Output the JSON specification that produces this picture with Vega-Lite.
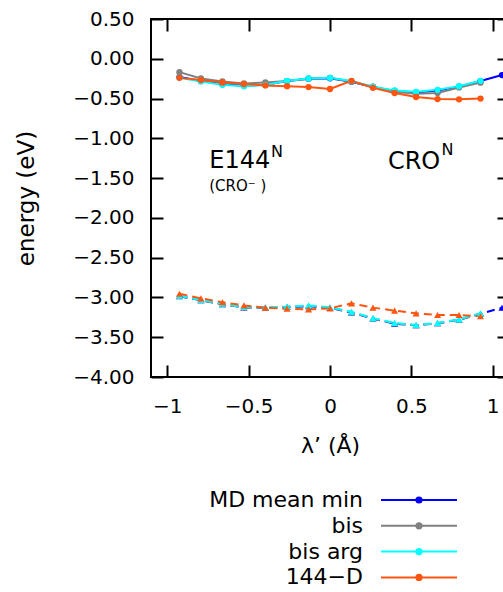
{
  "$schema": "https://vega.github.io/schema/vega-lite/v6.json",
  "width": 358,
  "height": 358,
  "autosize": {"type": "none"},
  "padding": {"left": 151, "top": 19, "right": 0, "bottom": 215},
  "background": "white",
  "config": {
    "font": "DejaVu Sans",
    "view": {"stroke": "black", "strokeWidth": 2},
    "axis": {"labelColor": "black", "titleColor": "black", "tickColor": "black", "grid": false, "domain": false, "labelFont": "DejaVu Sans", "titleFont": "DejaVu Sans", "titleFontWeight": "normal"}
  },
  "datasets": {
    "pts": [
      {"series": "MD mean min", "band": "top", "lam": -0.925, "e": -0.23},
      {"series": "MD mean min", "band": "top", "lam": -0.793, "e": -0.28},
      {"series": "MD mean min", "band": "top", "lam": -0.661, "e": -0.32},
      {"series": "MD mean min", "band": "top", "lam": -0.529, "e": -0.34},
      {"series": "MD mean min", "band": "top", "lam": -0.397, "e": -0.325},
      {"series": "MD mean min", "band": "top", "lam": -0.264, "e": -0.28},
      {"series": "MD mean min", "band": "top", "lam": -0.132, "e": -0.25},
      {"series": "MD mean min", "band": "top", "lam": 0, "e": -0.245},
      {"series": "MD mean min", "band": "top", "lam": 0.132, "e": -0.29},
      {"series": "MD mean min", "band": "top", "lam": 0.264, "e": -0.355},
      {"series": "MD mean min", "band": "top", "lam": 0.397, "e": -0.405},
      {"series": "MD mean min", "band": "top", "lam": 0.529, "e": -0.425},
      {"series": "MD mean min", "band": "top", "lam": 0.661, "e": -0.4},
      {"series": "MD mean min", "band": "top", "lam": 0.793, "e": -0.35},
      {"series": "MD mean min", "band": "top", "lam": 0.925, "e": -0.28},
      {"series": "MD mean min", "band": "top", "lam": 1.057, "e": -0.205},
      {"series": "bis", "band": "top", "lam": -0.925, "e": -0.168},
      {"series": "bis", "band": "top", "lam": -0.793, "e": -0.248},
      {"series": "bis", "band": "top", "lam": -0.661, "e": -0.285},
      {"series": "bis", "band": "top", "lam": -0.529, "e": -0.31},
      {"series": "bis", "band": "top", "lam": -0.397, "e": -0.298},
      {"series": "bis", "band": "top", "lam": -0.264, "e": -0.28},
      {"series": "bis", "band": "top", "lam": -0.132, "e": -0.25},
      {"series": "bis", "band": "top", "lam": 0, "e": -0.24},
      {"series": "bis", "band": "top", "lam": 0.132, "e": -0.29},
      {"series": "bis", "band": "top", "lam": 0.264, "e": -0.352},
      {"series": "bis", "band": "top", "lam": 0.397, "e": -0.415},
      {"series": "bis", "band": "top", "lam": 0.529, "e": -0.44},
      {"series": "bis", "band": "top", "lam": 0.661, "e": -0.43},
      {"series": "bis", "band": "top", "lam": 0.793, "e": -0.36},
      {"series": "bis", "band": "top", "lam": 0.925, "e": -0.3},
      {"series": "bis arg", "band": "top", "lam": -0.925, "e": -0.24},
      {"series": "bis arg", "band": "top", "lam": -0.793, "e": -0.285},
      {"series": "bis arg", "band": "top", "lam": -0.661, "e": -0.327},
      {"series": "bis arg", "band": "top", "lam": -0.529, "e": -0.344},
      {"series": "bis arg", "band": "top", "lam": -0.397, "e": -0.33},
      {"series": "bis arg", "band": "top", "lam": -0.264, "e": -0.277},
      {"series": "bis arg", "band": "top", "lam": -0.132, "e": -0.248},
      {"series": "bis arg", "band": "top", "lam": 0, "e": -0.24},
      {"series": "bis arg", "band": "top", "lam": 0.132, "e": -0.28},
      {"series": "bis arg", "band": "top", "lam": 0.264, "e": -0.35},
      {"series": "bis arg", "band": "top", "lam": 0.397, "e": -0.398},
      {"series": "bis arg", "band": "top", "lam": 0.529, "e": -0.415},
      {"series": "bis arg", "band": "top", "lam": 0.661, "e": -0.39},
      {"series": "bis arg", "band": "top", "lam": 0.793, "e": -0.344},
      {"series": "bis arg", "band": "top", "lam": 0.925, "e": -0.277},
      {"series": "144−D", "band": "top", "lam": -0.925, "e": -0.24},
      {"series": "144−D", "band": "top", "lam": -0.793, "e": -0.268},
      {"series": "144−D", "band": "top", "lam": -0.661, "e": -0.298},
      {"series": "144−D", "band": "top", "lam": -0.529, "e": -0.318},
      {"series": "144−D", "band": "top", "lam": -0.397, "e": -0.335},
      {"series": "144−D", "band": "top", "lam": -0.264, "e": -0.344},
      {"series": "144−D", "band": "top", "lam": -0.132, "e": -0.356},
      {"series": "144−D", "band": "top", "lam": 0, "e": -0.38},
      {"series": "144−D", "band": "top", "lam": 0.132, "e": -0.277},
      {"series": "144−D", "band": "top", "lam": 0.264, "e": -0.365},
      {"series": "144−D", "band": "top", "lam": 0.397, "e": -0.43},
      {"series": "144−D", "band": "top", "lam": 0.529, "e": -0.48},
      {"series": "144−D", "band": "top", "lam": 0.661, "e": -0.507},
      {"series": "144−D", "band": "top", "lam": 0.793, "e": -0.51},
      {"series": "144−D", "band": "top", "lam": 0.925, "e": -0.5},
      {"series": "MD mean min", "band": "bottom", "lam": -0.925, "e": -2.985},
      {"series": "MD mean min", "band": "bottom", "lam": -0.793, "e": -3.035},
      {"series": "MD mean min", "band": "bottom", "lam": -0.661, "e": -3.085},
      {"series": "MD mean min", "band": "bottom", "lam": -0.529, "e": -3.125},
      {"series": "MD mean min", "band": "bottom", "lam": -0.397, "e": -3.13},
      {"series": "MD mean min", "band": "bottom", "lam": -0.264, "e": -3.12},
      {"series": "MD mean min", "band": "bottom", "lam": -0.132, "e": -3.11},
      {"series": "MD mean min", "band": "bottom", "lam": 0, "e": -3.13},
      {"series": "MD mean min", "band": "bottom", "lam": 0.132, "e": -3.19},
      {"series": "MD mean min", "band": "bottom", "lam": 0.264, "e": -3.265},
      {"series": "MD mean min", "band": "bottom", "lam": 0.397, "e": -3.33},
      {"series": "MD mean min", "band": "bottom", "lam": 0.529, "e": -3.35},
      {"series": "MD mean min", "band": "bottom", "lam": 0.661, "e": -3.325},
      {"series": "MD mean min", "band": "bottom", "lam": 0.793, "e": -3.28},
      {"series": "MD mean min", "band": "bottom", "lam": 0.925, "e": -3.205},
      {"series": "MD mean min", "band": "bottom", "lam": 1.057, "e": -3.13},
      {"series": "bis", "band": "bottom", "lam": -0.925, "e": -2.98},
      {"series": "bis", "band": "bottom", "lam": -0.793, "e": -3.035},
      {"series": "bis", "band": "bottom", "lam": -0.661, "e": -3.085},
      {"series": "bis", "band": "bottom", "lam": -0.529, "e": -3.125},
      {"series": "bis", "band": "bottom", "lam": -0.397, "e": -3.13},
      {"series": "bis", "band": "bottom", "lam": -0.264, "e": -3.12},
      {"series": "bis", "band": "bottom", "lam": -0.132, "e": -3.105},
      {"series": "bis", "band": "bottom", "lam": 0, "e": -3.13},
      {"series": "bis", "band": "bottom", "lam": 0.132, "e": -3.185},
      {"series": "bis", "band": "bottom", "lam": 0.264, "e": -3.265},
      {"series": "bis", "band": "bottom", "lam": 0.397, "e": -3.325},
      {"series": "bis", "band": "bottom", "lam": 0.529, "e": -3.35},
      {"series": "bis", "band": "bottom", "lam": 0.661, "e": -3.325},
      {"series": "bis", "band": "bottom", "lam": 0.793, "e": -3.28},
      {"series": "bis", "band": "bottom", "lam": 0.925, "e": -3.205},
      {"series": "bis arg", "band": "bottom", "lam": -0.925, "e": -2.978},
      {"series": "bis arg", "band": "bottom", "lam": -0.793, "e": -3.03},
      {"series": "bis arg", "band": "bottom", "lam": -0.661, "e": -3.08},
      {"series": "bis arg", "band": "bottom", "lam": -0.529, "e": -3.12},
      {"series": "bis arg", "band": "bottom", "lam": -0.397, "e": -3.124},
      {"series": "bis arg", "band": "bottom", "lam": -0.264, "e": -3.116},
      {"series": "bis arg", "band": "bottom", "lam": -0.132, "e": -3.1},
      {"series": "bis arg", "band": "bottom", "lam": 0, "e": -3.124},
      {"series": "bis arg", "band": "bottom", "lam": 0.132, "e": -3.18},
      {"series": "bis arg", "band": "bottom", "lam": 0.264, "e": -3.26},
      {"series": "bis arg", "band": "bottom", "lam": 0.397, "e": -3.32},
      {"series": "bis arg", "band": "bottom", "lam": 0.529, "e": -3.346},
      {"series": "bis arg", "band": "bottom", "lam": 0.661, "e": -3.32},
      {"series": "bis arg", "band": "bottom", "lam": 0.793, "e": -3.275},
      {"series": "bis arg", "band": "bottom", "lam": 0.925, "e": -3.2},
      {"series": "144−D", "band": "bottom", "lam": -0.925, "e": -2.953},
      {"series": "144−D", "band": "bottom", "lam": -0.793, "e": -3.011},
      {"series": "144−D", "band": "bottom", "lam": -0.661, "e": -3.06},
      {"series": "144−D", "band": "bottom", "lam": -0.529, "e": -3.1},
      {"series": "144−D", "band": "bottom", "lam": -0.397, "e": -3.13},
      {"series": "144−D", "band": "bottom", "lam": -0.264, "e": -3.14},
      {"series": "144−D", "band": "bottom", "lam": -0.132, "e": -3.15},
      {"series": "144−D", "band": "bottom", "lam": 0, "e": -3.137},
      {"series": "144−D", "band": "bottom", "lam": 0.132, "e": -3.074},
      {"series": "144−D", "band": "bottom", "lam": 0.264, "e": -3.128},
      {"series": "144−D", "band": "bottom", "lam": 0.397, "e": -3.166},
      {"series": "144−D", "band": "bottom", "lam": 0.529, "e": -3.2},
      {"series": "144−D", "band": "bottom", "lam": 0.661, "e": -3.22},
      {"series": "144−D", "band": "bottom", "lam": 0.793, "e": -3.22},
      {"series": "144−D", "band": "bottom", "lam": 0.925, "e": -3.237}
    ],
    "ann": [
      {"t": "E144", "k": "big", "lam": -0.742, "e": -1.37},
      {"t": "CRO", "k": "big", "lam": 0.356, "e": -1.385},
      {"t": "N", "k": "sup", "lam": -0.362, "e": -1.236},
      {"t": "N", "k": "sup", "lam": 0.685, "e": -1.21},
      {"t": "(CRO⁻ )", "k": "small", "lam": -0.742, "e": -1.663}
    ]
  },
  "resolve": {"axis": {"x": "independent", "y": "independent"}},
  "layer": [
    {
      "mark": {"type": "rule", "color": "#444444", "strokeWidth": 1.3},
      "encoding": {
        "x": {"datum": 0, "type": "quantitative", "scale": {"domain": [-1.1, 1.1], "nice": false, "zero": false},
          "axis": {"orient": "top", "labels": false, "title": null, "values": [-1, -0.5, 0, 0.5, 1], "offset": -12, "tickSize": 12, "tickWidth": 2}}
      }
    },
    {
      "mark": {"type": "rule", "color": "black", "strokeWidth": 1, "strokeDash": [1.5, 3]},
      "encoding": {
        "y": {"datum": 0, "type": "quantitative", "scale": {"domain": [-4, 0.5], "nice": false, "zero": false},
          "axis": {"orient": "right", "labels": false, "title": null, "values": [-4, -3.5, -3, -2.5, -2, -1.5, -1, -0.5, 0, 0.5], "offset": -12, "tickSize": 12, "tickWidth": 2}}
      }
    },
    {
      "data": {"name": "pts"},
      "transform": [{"filter": "datum.band === 'top'"}],
      "mark": {"type": "line", "strokeWidth": 2},
      "encoding": {
        "x": {"field": "lam", "type": "quantitative",
          "axis": {"orient": "bottom", "title": "λ’ (Å)", "values": [-1, -0.5, 0, 0.5, 1], "format": ".1~f", "offset": -12, "tickSize": 12, "tickWidth": 2, "labelFontSize": 20, "labelPadding": 19, "titleFontSize": 22, "titleBaseline": "alphabetic", "titleY": 87}},
        "y": {"field": "e", "type": "quantitative",
          "axis": {"orient": "left", "title": "energy (eV)", "values": [-4, -3.5, -3, -2.5, -2, -1.5, -1, -0.5, 0, 0.5], "format": ".2f", "offset": -12, "tickSize": 12, "tickWidth": 2, "labelFontSize": 20, "labelPadding": 17, "titleFontSize": 23, "titleBaseline": "alphabetic", "titleX": -130}},
        "color": {"field": "series", "type": "nominal",
          "scale": {"domain": ["MD mean min", "bis", "bis arg", "144−D"], "range": ["#0000ff", "#808080", "#00ffff", "#ff5511"]},
          "legend": {"orient": "none", "legendX": 254, "legendY": 467, "title": null,
            "symbolType": "M-2.923,0H2.923M0.2,0A0.2,0.2,0,1,1,-0.2,0A0.2,0.2,0,1,1,0.2,0Z",
            "symbolSize": 676, "symbolStrokeWidth": 2, "labelAlign": "right", "labelOffset": -70,
            "labelFont": "DejaVu Sans", "labelFontSize": 22, "labelColor": "black", "rowPadding": 0.8, "padding": 0, "labelLimit": 400,
            "encode": {"symbols": {"update": {"fill": {"scale": "color", "field": "value"}, "stroke": {"scale": "color", "field": "value"}, "opacity": {"value": 1}}}}}},
        "order": {"field": "lam", "type": "quantitative"}
      }
    },
    {
      "data": {"name": "pts"},
      "transform": [{"filter": "datum.band === 'top'"}],
      "mark": {"type": "point", "shape": "circle", "filled": true, "size": 40, "opacity": 1},
      "encoding": {
        "x": {"field": "lam", "type": "quantitative", "axis": null},
        "y": {"field": "e", "type": "quantitative", "axis": null},
        "color": {"field": "series", "type": "nominal",
          "legend": {"orient": "none", "legendX": 254, "legendY": 467, "title": null,
            "symbolType": "M-2.923,0H2.923M0.2,0A0.2,0.2,0,1,1,-0.2,0A0.2,0.2,0,1,1,0.2,0Z",
            "symbolSize": 676, "symbolStrokeWidth": 2, "labelAlign": "right", "labelOffset": -70,
            "labelFont": "DejaVu Sans", "labelFontSize": 22, "labelColor": "black", "rowPadding": 0.8, "padding": 0, "labelLimit": 400,
            "encode": {"symbols": {"update": {"fill": {"scale": "color", "field": "value"}, "stroke": {"scale": "color", "field": "value"}, "opacity": {"value": 1}}}}}}
      }
    },
    {
      "data": {"name": "pts"},
      "transform": [{"filter": "datum.band === 'bottom'"}],
      "mark": {"type": "line", "strokeWidth": 2, "strokeDash": [8, 5]},
      "encoding": {
        "x": {"field": "lam", "type": "quantitative", "axis": null},
        "y": {"field": "e", "type": "quantitative", "axis": null},
        "color": {"field": "series", "type": "nominal",
          "legend": {"orient": "none", "legendX": 254, "legendY": 467, "title": null,
            "symbolType": "M-2.923,0H2.923M0.2,0A0.2,0.2,0,1,1,-0.2,0A0.2,0.2,0,1,1,0.2,0Z",
            "symbolSize": 676, "symbolStrokeWidth": 2, "labelAlign": "right", "labelOffset": -70,
            "labelFont": "DejaVu Sans", "labelFontSize": 22, "labelColor": "black", "rowPadding": 0.8, "padding": 0, "labelLimit": 400,
            "encode": {"symbols": {"update": {"fill": {"scale": "color", "field": "value"}, "stroke": {"scale": "color", "field": "value"}, "opacity": {"value": 1}}}}}},
        "order": {"field": "lam", "type": "quantitative"}
      }
    },
    {
      "data": {"name": "pts"},
      "transform": [{"filter": "datum.band === 'bottom'"}],
      "mark": {"type": "point", "shape": "triangle-up", "filled": true, "size": 50, "opacity": 1},
      "encoding": {
        "x": {"field": "lam", "type": "quantitative", "axis": null},
        "y": {"field": "e", "type": "quantitative", "axis": null},
        "color": {"field": "series", "type": "nominal",
          "legend": {"orient": "none", "legendX": 254, "legendY": 467, "title": null,
            "symbolType": "M-2.923,0H2.923M0.2,0A0.2,0.2,0,1,1,-0.2,0A0.2,0.2,0,1,1,0.2,0Z",
            "symbolSize": 676, "symbolStrokeWidth": 2, "labelAlign": "right", "labelOffset": -70,
            "labelFont": "DejaVu Sans", "labelFontSize": 22, "labelColor": "black", "rowPadding": 0.8, "padding": 0, "labelLimit": 400,
            "encode": {"symbols": {"update": {"fill": {"scale": "color", "field": "value"}, "stroke": {"scale": "color", "field": "value"}, "opacity": {"value": 1}}}}}}
      }
    },
    {
      "data": {"name": "ann"},
      "transform": [{"filter": "datum.k === 'big'"}],
      "mark": {"type": "text", "align": "left", "baseline": "alphabetic", "fontSize": 24, "font": "DejaVu Sans", "color": "black"},
      "encoding": {
        "x": {"field": "lam", "type": "quantitative", "axis": null},
        "y": {"field": "e", "type": "quantitative", "axis": null},
        "text": {"field": "t"}
      }
    },
    {
      "data": {"name": "ann"},
      "transform": [{"filter": "datum.k === 'sup'"}],
      "mark": {"type": "text", "align": "left", "baseline": "alphabetic", "fontSize": 16, "font": "DejaVu Sans", "color": "black"},
      "encoding": {
        "x": {"field": "lam", "type": "quantitative", "axis": null},
        "y": {"field": "e", "type": "quantitative", "axis": null},
        "text": {"field": "t"}
      }
    },
    {
      "data": {"name": "ann"},
      "transform": [{"filter": "datum.k === 'small'"}],
      "mark": {"type": "text", "align": "left", "baseline": "alphabetic", "fontSize": 15, "font": "DejaVu Sans", "color": "black"},
      "encoding": {
        "x": {"field": "lam", "type": "quantitative", "axis": null},
        "y": {"field": "e", "type": "quantitative", "axis": null},
        "text": {"field": "t"}
      }
    }
  ]
}
